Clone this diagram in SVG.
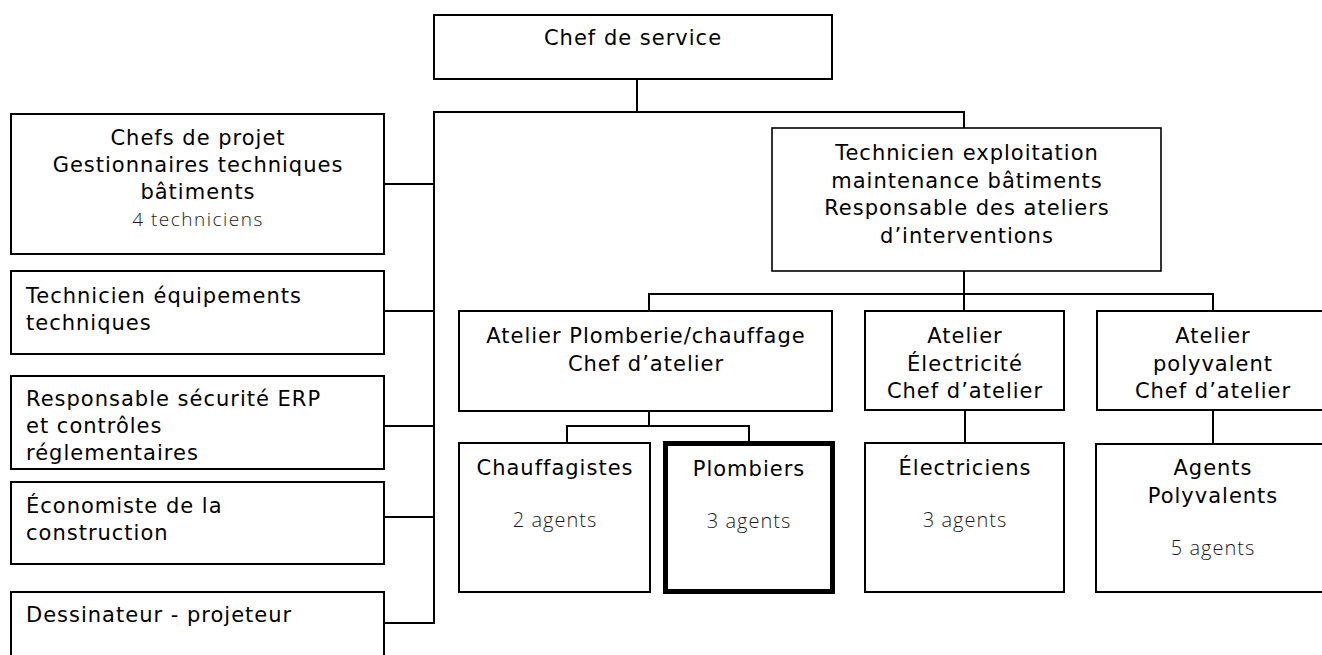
<svg xmlns="http://www.w3.org/2000/svg" width="1322" height="655" viewBox="0 0 1322 655">
<style>
.box{fill:#fff;stroke:#000;stroke-width:2}
.thin{stroke-width:1.6}
.thick{stroke-width:5}
.t{font-family:"DejaVu Sans","Liberation Sans",sans-serif;font-size:21px;letter-spacing:1px;fill:#000}
.c{text-anchor:middle}
.s{font-family:"Open Sans","DejaVu Sans",sans-serif;font-weight:300;font-size:20px;letter-spacing:1px;fill:#1a1a1a;text-anchor:middle}
.s2{font-size:19px;letter-spacing:1.5px}
.conn path{fill:none;stroke:#000;stroke-width:2;stroke-linecap:square}
</style>
<rect width="1322" height="655" fill="#fff"/>
<g class="conn" id="connectors">
<path d="M637,79 V112"/>
<path d="M434,112 H964"/>
<path d="M434,112 V623"/>
<path d="M384,184 H434"/>
<path d="M384,311 H434"/>
<path d="M384,426 H434"/>
<path d="M384,517 H434"/>
<path d="M384,623 H434"/>
<path d="M964,112 V128"/>
<path d="M964,272 V311"/>
<path d="M649,294 H1213"/>
<path d="M649,294 V311"/>
<path d="M1213,294 V311"/>
<path d="M649,411 V426"/>
<path d="M567,426 H749"/>
<path d="M567,426 V443"/>
<path d="M749,426 V441"/>
<path d="M965,410 V443"/>
<path d="M1213,410 V444"/>
</g>
<g id="chef-service">
<rect class="box" x="434" y="15" width="398" height="64"/>
<text class="t c" x="633" y="45">Chef de service</text>
</g>
<g id="chefs-projet">
<rect class="box" x="11" y="114" width="373" height="140"/>
<text class="t c" x="198" y="145">Chefs de projet</text>
<text class="t c" x="198" y="172">Gestionnaires techniques</text>
<text class="t c" x="198" y="199">bâtiments</text>
<text class="s s2" x="198" y="226">4 techniciens</text>
</g>
<g id="tech-equipements">
<rect class="box" x="11" y="271" width="373" height="83"/>
<text class="t" x="26" y="303">Technicien équipements</text>
<text class="t" x="26" y="330">techniques</text>
</g>
<g id="resp-securite">
<rect class="box" x="11" y="376" width="373" height="93"/>
<text class="t" x="26" y="406">Responsable sécurité ERP</text>
<text class="t" x="26" y="433">et contrôles</text>
<svg x="0" y="376" width="384" height="92" viewBox="0 376 384 92" overflow="hidden"><text class="t" x="26" y="460">réglementaires</text></svg>
</g>
<g id="economiste">
<rect class="box" x="11" y="482" width="373" height="82"/>
<text class="t" x="26" y="513">Économiste de la</text>
<text class="t" x="26" y="540">construction</text>
</g>
<g id="dessinateur">
<rect class="box" x="11" y="592" width="373" height="80"/>
<text class="t" x="26" y="622">Dessinateur - projeteur</text>
</g>
<g id="tech-exploitation">
<rect class="box thin" x="772" y="128" width="389" height="143"/>
<text class="t c" x="967" y="160">Technicien exploitation</text>
<text class="t c" x="967" y="188">maintenance bâtiments</text>
<text class="t c" x="967" y="215">Responsable des ateliers</text>
<text class="t c" x="967" y="243">d’interventions</text>
</g>
<g id="atelier-plomberie">
<rect class="box" x="459" y="311" width="373" height="100"/>
<text class="t c" x="646" y="343">Atelier Plomberie/chauffage</text>
<text class="t c" x="646" y="371">Chef d’atelier</text>
</g>
<g id="atelier-electricite">
<rect class="box" x="865" y="311" width="199" height="99"/>
<text class="t c" x="965" y="343">Atelier</text>
<text class="t c" x="965" y="371">Électricité</text>
<text class="t c" x="965" y="398">Chef d’atelier</text>
</g>
<g id="atelier-polyvalent">
<rect class="box" x="1097" y="311" width="232" height="99"/>
<text class="t c" x="1213" y="343">Atelier</text>
<text class="t c" x="1213" y="371">polyvalent</text>
<text class="t c" x="1213" y="398">Chef d’atelier</text>
</g>
<g id="chauffagistes">
<rect class="box" x="459" y="443" width="191" height="149"/>
<text class="t c" x="555" y="475">Chauffagistes</text>
<text class="s" x="555" y="527">2 agents</text>
</g>
<g id="plombiers">
<rect class="box thick" x="665.5" y="443.5" width="167" height="148"/>
<text class="t c" x="749" y="476">Plombiers</text>
<text class="s" x="749" y="528">3 agents</text>
</g>
<g id="electriciens">
<rect class="box" x="865" y="443" width="199" height="149"/>
<text class="t c" x="965" y="475">Électriciens</text>
<text class="s" x="965" y="527">3 agents</text>
</g>
<g id="agents-polyvalents">
<rect class="box" x="1096" y="444" width="233" height="148"/>
<text class="t c" x="1213" y="475">Agents</text>
<text class="t c" x="1213" y="503">Polyvalents</text>
<text class="s" x="1213" y="555">5 agents</text>
</g>
</svg>
